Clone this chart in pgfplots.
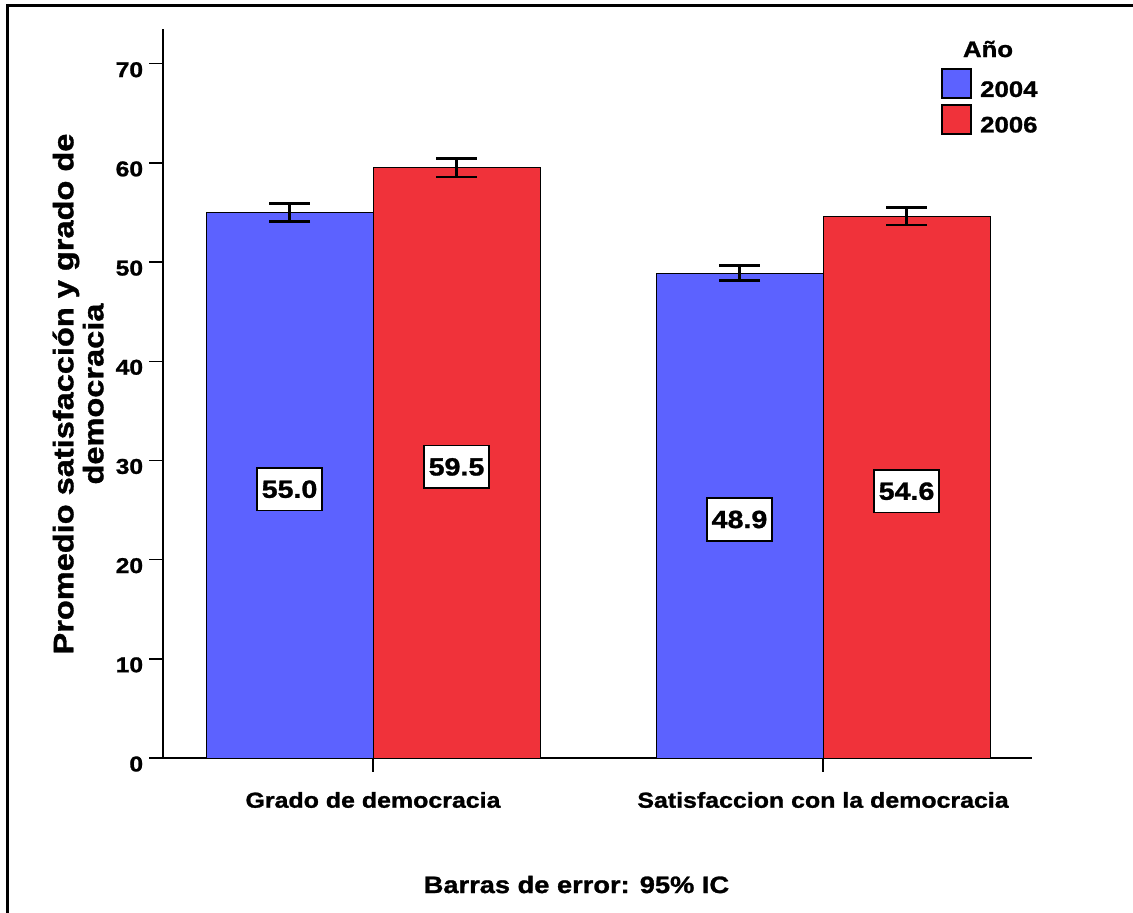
\documentclass[border=0pt]{standalone}
\usepackage{fontspec}
\setmainfont{Liberation Sans}[FakeStretch=1.15, BoldFeatures={FakeBold=1.2}]
\usepackage{pgfplots}
\pgfplotsset{compat=1.18}
\definecolor{cblue}{RGB}{92,98,255}
\definecolor{cred}{RGB}{240,50,58}
\begin{document}
\begin{tikzpicture}
\begin{axis}[
  scale only axis, width=434.5pt, height=364.5pt,
  xmin=-0.4667, xmax=1.4644, ymin=0, ymax=73.5,
  clip=false,
  axis lines*=left,
  axis line style={line width=0.75pt, black},
  ybar=0pt, bar width=83.5pt,
  xtick={0,1},
  xticklabels={Grado de democracia, Satisfaccion con la democracia},
  ytick={0,10,...,70},
  tick align=outside, major tick length=6.75pt,
  tick style={black, line width=0.75pt},
  /pgf/number format/assume math mode=true,
  yticklabel style={font=\bfseries\fontsize{10.7}{12}\selectfont, inner sep=0pt, anchor=east, xshift=-3pt, yshift=-3pt},
  xticklabel style={font=\bfseries\fontsize{10.84}{13}\selectfont, inner sep=0pt, anchor=base, yshift=-18.1pt},
  ylabel={Promedio satisfacción y grado de\\democracia},
  ylabel style={font=\bfseries\fontsize{14.15}{15}\selectfont, align=center, inner sep=0pt, at={(axis description cs:-0.0679,0.4993)}, anchor=south},
  legend style={at={(axis description cs:0.8953,0.9465)}, anchor=north west, draw=none, fill=none, inner sep=0pt, row sep=0pt, column sep=2pt, font=\bfseries\fontsize{11.2}{13}\selectfont, cells={anchor=base west}},
  every node near coord/.append style={draw=black, line width=0.8pt, fill=white, text=black, anchor=center, minimum width=32.25pt, minimum height=21.25pt, inner sep=0pt, font=\bfseries\fontsize{12.44}{14}\selectfont},
]
\addplot[fill=cblue, draw=black, line width=0.5pt, bar shift=-41.75pt,
  legend image code/.code={\draw[fill=cblue, draw=black, line width=0.9pt] (0pt,-0.7pt) rectangle (14.5pt,13.8pt);},
  error bars/.cd, y dir=both, y explicit,
  error bar style={line width=1.1pt, black},
  error mark options={rotate=90, line width=1.1pt, mark size=10.25pt, black}]
  coordinates {(0,55.0) +- (0,0.9) (1,48.9) +- (0,0.76)};
\addlegendentry{2004}
\addplot[fill=cred, draw=black, line width=0.5pt, bar shift=41.75pt,
  legend image code/.code={\draw[fill=cred, draw=black, line width=0.9pt] (0pt,-0.7pt) rectangle (14.5pt,13.8pt);},
  error bars/.cd, y dir=both, y explicit,
  error bar style={line width=1.1pt, black},
  error mark options={rotate=90, line width=1.1pt, mark size=10.25pt, black}]
  coordinates {(0,59.5) +- (0,0.95) (1,54.6) +- (0,0.9)};
\addlegendentry{2006}
\addplot[draw=none, fill=none, bar shift=-41.75pt, forget plot,
  nodes near coords, point meta=explicit symbolic]
  coordinates {(0,27.1) [55.0] (1,24.05) [48.9]};
\addplot[draw=none, fill=none, bar shift=41.75pt, forget plot,
  nodes near coords, point meta=explicit symbolic]
  coordinates {(0,29.35) [59.5] (1,26.9) [54.6]};
\node[font=\bfseries\fontsize{11.2}{13}\selectfont, anchor=base] at (axis description cs:0.9494,0.9616) {Año};
\node[font=\bfseries\fontsize{11.85}{14}\selectfont, anchor=base] at (axis description cs:0.4758,-0.1852) {Barras de error: 95\% IC};
\end{axis}
\draw[line width=1.5pt] (-77.75pt,-100pt) -- (-77.75pt,376pt) -- (520pt,376pt);
\pgfresetboundingbox
\useasboundingbox (-81.5pt,-77pt) rectangle (485pt,379pt);
\end{tikzpicture}
\end{document}
